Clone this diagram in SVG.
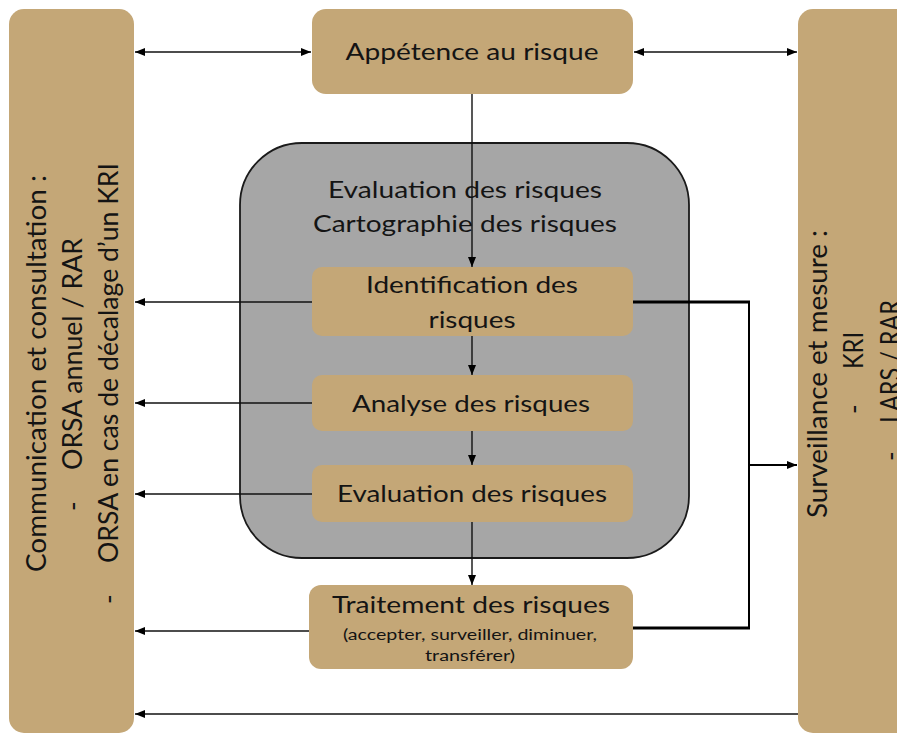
<svg xmlns="http://www.w3.org/2000/svg" width="897" height="733" viewBox="0 0 897 733">
<style>
  .tan { fill: #C4A777; }
  .gray { fill: #A6A6A6; stroke: #1a1a1a; stroke-width: 1.8; }
  text { font-family: Lato, "Liberation Sans", sans-serif; fill: #141414; }
  .t { font-size: 23.5px; text-anchor: middle; }
  .s { font-size: 14.5px; text-anchor: middle; }
  .v { font-size: 26px; }
  .ln { stroke: #111; stroke-width: 1.4; fill: none; }
  .thick { stroke: #000; stroke-width: 3; fill: none; }
  .mid { stroke: #000; stroke-width: 2; fill: none; }
</style>
<defs>
  <marker id="ah" markerWidth="10" markerHeight="8" refX="10" refY="4" orient="auto" markerUnits="userSpaceOnUse">
    <path d="M0,0 L10,4 L0,8 Z" fill="#000"/>
  </marker>
  <marker id="as" markerWidth="10" markerHeight="8" refX="0" refY="4" orient="auto" markerUnits="userSpaceOnUse">
    <path d="M10,0 L0,4 L10,8 Z" fill="#000"/>
  </marker>
</defs>
<rect width="897" height="733" fill="#ffffff"/>

<g id="communication">
  <rect class="tan" x="9" y="9" width="125" height="724" rx="15"/>
  <text class="v" transform="translate(46,572) rotate(-90)" textLength="397" lengthAdjust="spacingAndGlyphs">Communication et consultation :</text>
  <text class="v" transform="translate(82,511) rotate(-90)">-</text>
  <text class="v" transform="translate(82,470) rotate(-90)" textLength="232" lengthAdjust="spacingAndGlyphs">ORSA annuel / RAR</text>
  <text class="v" transform="translate(118,604) rotate(-90)">-</text>
  <text class="v" transform="translate(118,563) rotate(-90)" textLength="400" lengthAdjust="spacingAndGlyphs">ORSA en cas de décalage d’un KRI</text>
</g>

<g id="surveillance">
  <rect class="tan" x="798" y="9" width="120" height="724" rx="15"/>
  <text class="v" transform="translate(827,518) rotate(-90)" textLength="288" lengthAdjust="spacingAndGlyphs">Surveillance et mesure :</text>
  <text class="v" transform="translate(863,414) rotate(-90)">-</text>
  <text class="v" transform="translate(863,369) rotate(-90)" textLength="37" lengthAdjust="spacingAndGlyphs">KRI</text>
  <text class="v" transform="translate(900,461) rotate(-90)">-</text>
  <text class="v" transform="translate(900,423) rotate(-90)" textLength="123" lengthAdjust="spacingAndGlyphs">LARS / RAR</text>
</g>

<g id="appetence">
  <rect class="tan" x="312" y="9" width="321" height="85" rx="14"/>
  <text class="t" x="472" y="60" textLength="253" lengthAdjust="spacingAndGlyphs">Appétence au risque</text>
</g>

<g id="evaluation-cadre">
  <rect class="gray" x="240" y="143" width="449" height="415" rx="62"/>
  <text class="t" x="465" y="198" textLength="274" lengthAdjust="spacingAndGlyphs">Evaluation des risques</text>
  <text class="t" x="465" y="232" textLength="304" lengthAdjust="spacingAndGlyphs">Cartographie des risques</text>
</g>

<g id="connectors">
  <line class="ln" x1="472" y1="94" x2="472" y2="267" marker-end="url(#ah)"/>
  <line class="ln" x1="472" y1="336" x2="472" y2="375" marker-end="url(#ah)"/>
  <line class="ln" x1="472" y1="431" x2="472" y2="465" marker-end="url(#ah)"/>
  <line class="ln" x1="472" y1="522" x2="472" y2="585" marker-end="url(#ah)"/>
  <line class="ln" x1="135" y1="52" x2="311" y2="52" marker-start="url(#as)" marker-end="url(#ah)"/>
  <line class="ln" x1="634" y1="52" x2="797" y2="52" marker-start="url(#as)" marker-end="url(#ah)"/>
  <line class="ln" x1="312" y1="302" x2="135" y2="302" marker-end="url(#ah)"/>
  <line class="ln" x1="312" y1="403" x2="135" y2="403" marker-end="url(#ah)"/>
  <line class="ln" x1="312" y1="494" x2="135" y2="494" marker-end="url(#ah)"/>
  <line class="ln" x1="309" y1="631" x2="135" y2="631" marker-end="url(#ah)"/>
  <line class="ln" x1="798" y1="714" x2="135" y2="714" marker-end="url(#ah)"/>
  <line class="thick" x1="633" y1="302" x2="750" y2="302"/>
  <line class="thick" x1="633" y1="628" x2="750" y2="628"/>
  <line class="mid" x1="749" y1="301" x2="749" y2="629"/>
  <line class="mid" x1="749" y1="465" x2="797" y2="465" marker-end="url(#ah)"/>
</g>

<g id="identification">
  <rect class="tan" x="312" y="267" width="321" height="69" rx="10"/>
  <text class="t" x="472" y="293" textLength="212" lengthAdjust="spacingAndGlyphs">Identification des</text>
  <text class="t" x="472" y="328" textLength="87" lengthAdjust="spacingAndGlyphs">risques</text>
</g>

<g id="analyse">
  <rect class="tan" x="312" y="375" width="321" height="56" rx="10"/>
  <text class="t" x="471" y="412" textLength="238" lengthAdjust="spacingAndGlyphs">Analyse des risques</text>
</g>

<g id="evaluation">
  <rect class="tan" x="312" y="465" width="321" height="57" rx="10"/>
  <text class="t" x="472" y="502" textLength="270" lengthAdjust="spacingAndGlyphs">Evaluation des risques</text>
</g>

<g id="traitement">
  <rect class="tan" x="309" y="585" width="324" height="84" rx="12"/>
  <text class="t" x="471" y="613" textLength="278" lengthAdjust="spacingAndGlyphs">Traitement des risques</text>
  <text class="s" x="470" y="640" textLength="254" lengthAdjust="spacingAndGlyphs">(accepter, surveiller, diminuer,</text>
  <text class="s" x="470" y="661" textLength="90" lengthAdjust="spacingAndGlyphs">transférer)</text>
</g>
</svg>
